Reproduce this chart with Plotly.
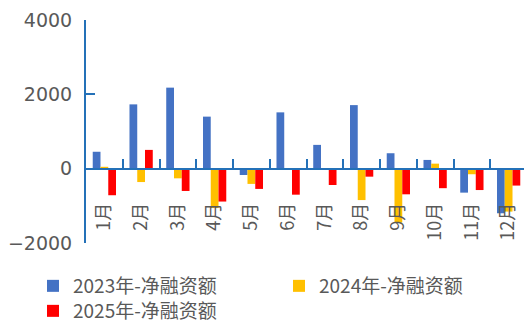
import plotly.graph_objects as go

months = ["1月", "2月", "3月", "4月", "5月", "6月", "7月", "8月", "9月", "10月", "11月", "12月"]
net_2023 = [455, 1730, 2180, 1400, -170, 1515, 640, 1710, 415, 235, -645, -1200]
net_2024 = [50, -360, -260, -1060, -410, -30, 0, -845, -1450, 135, -150, -1155]
net_2025 = [-715, 505, -600, -885, -545, -700, -440, -215, -690, -525, -575, -455]
series_names = ["2023年-净融资额", "2024年-净融资额", "2025年-净融资额"]
colors = ["#4472C4", "#FFC000", "#FF0000"]
y_ticks = [-2000, 0, 2000, 4000]

W, H = 524, 324
L, T, B = 86, 20, 243
axis_color = "#2471B8"
text_color = "#595959"

legend_ids = ["legend", "legend2", "legend3"]
fig = go.Figure()
for name, vals, c, lg in zip(series_names, [net_2023, net_2024, net_2025], colors, legend_ids):
    fig.add_trace(go.Bar(x=months, y=vals, name=name, legend=lg,
                         marker=dict(color=c, line=dict(width=0))))

cat_w = 36.75
plot_w = W - L
legend_font = dict(family="Noto Sans CJK SC", size=19, color=text_color)


def leg(xpx, ypx):
    return dict(orientation="h", xref="container", yref="container",
                x=xpx / W, y=1 - ypx / H, xanchor="left", yanchor="middle",
                font=legend_font, itemwidth=30, bgcolor="rgba(0,0,0,0)")


fig.update_layout(
    width=W, height=H,
    margin=dict(l=L, r=0, t=T, b=H - B, autoexpand=False),
    plot_bgcolor="white", paper_bgcolor="white",
    barmode="group", bargap=0.366, bargroupgap=0,
    font=dict(family="Noto Sans CJK SC", color=text_color),
    xaxis=dict(
        type="category", automargin=False,
        range=[-0.5, -0.5 + plot_w / cat_w],
        tickangle=-90, tickson="boundaries",
        ticks="inside", ticklen=9, tickwidth=2, tickcolor=axis_color,
        showline=True, linecolor=axis_color, linewidth=2,
        showgrid=False, zeroline=False,
        anchor="free", position=1/3,
        tickfont=dict(family="Noto Sans CJK SC", size=18, color=text_color),
        ticklabelstandoff=26,
    ),
    yaxis=dict(
        range=[-2000, 4000], tickmode="array", tickvals=y_ticks, automargin=False,
        ticks="inside", ticklen=9, tickwidth=2, tickcolor=axis_color,
        showline=True, linecolor=axis_color, linewidth=2,
        showgrid=False, zeroline=False,
        tickfont=dict(family="DejaVu Sans", size=19, color=text_color),
        ticklabelstandoff=8,
    ),
    legend=leg(33, 286),
    legend2=leg(279, 286),
    legend3=leg(33, 311),
    showlegend=True,
)

fig.write_html("out.html")
